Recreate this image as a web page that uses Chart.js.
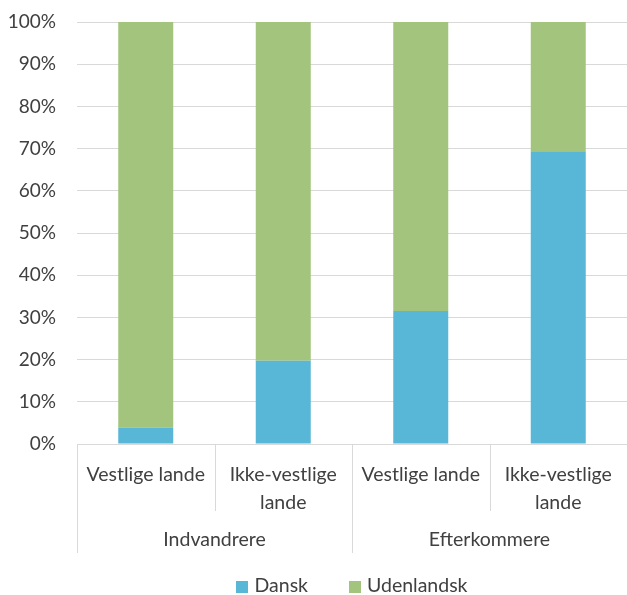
<!DOCTYPE html>
<html>
<head>
<meta charset="utf-8">
<script src="https://cdn.jsdelivr.net/npm/chart.js@4/dist/chart.umd.min.js"></script>
<style>
html,body{margin:0;padding:0;background:#fff;}
#wrap{width:627px;height:595px;}
</style>
</head>
<body>
<div id="wrap"><canvas id="c" width="627" height="595"></canvas></div>
<script>
const subCategories = [["Vestlige lande"], ["Ikke-vestlige", "lande"], ["Vestlige lande"], ["Ikke-vestlige", "lande"]];
const groups = ["Indvandrere", "Efterkommere"];
const groupSizes = [2, 2];
const dansk = [3.9, 19.7, 31.5, 69.4];
const udenlandsk = [96.1, 80.3, 68.5, 30.6];
const seriesNames = ["Dansk", "Udenlandsk"];
const yMin = 0, yMax = 100, yStep = 10;

const TEXT = '#404040';
const LINE = '#d9d9d9';
const FONT = 'Lato';
const FS = 19.5;
const PLOT_BOTTOM = 444;

const groupPlugin = {
  id: 'groupPlugin',
  afterDraw(chart) {
    const ctx = chart.ctx;
    const x = chart.scales.x;
    const area = chart.chartArea;
    const n = x.ticks.length;
    const step = (x.right - x.left) / n;
    const yTop = area.bottom;
    const shortBottom = yTop + 67;
    const longBottom = yTop + 109;
    ctx.save();
    ctx.strokeStyle = LINE;
    ctx.lineWidth = 1;
    let idx = 0;
    const boundaries = new Set([0]);
    groupSizes.forEach(s => { idx += s; boundaries.add(idx); });
    for (let i = 0; i < n; i++) {
      const px = Math.round(x.left + i * step) + 0.5;
      ctx.beginPath();
      ctx.moveTo(px, yTop);
      ctx.lineTo(px, boundaries.has(i) ? longBottom : shortBottom);
      ctx.stroke();
    }
    ctx.fillStyle = TEXT;
    ctx.font = FS + 'px ' + FONT;
    ctx.textAlign = 'center';
    ctx.textBaseline = 'alphabetic';
    let start = 0;
    groups.forEach((g, gi) => {
      const end = start + groupSizes[gi];
      const cx = x.left + (start + end) / 2 * step;
      ctx.fillText(g, cx, yTop + 102);
      start = end;
    });

    // legend, centred on the plot area
    const box = 12, gapBoxText = 6, gapItems = 41;
    const items = chart.data.datasets.map(d => ({ label: d.label, color: d.backgroundColor, w: ctx.measureText(d.label).width }));
    const total = items.reduce((s, it, i) => s + box + gapBoxText + it.w + (i ? gapItems : 0), 0);
    let cx = (area.left + area.right - total) / 2;
    const baseY = 592;
    ctx.textAlign = 'left';
    items.forEach((it, i) => {
      if (i) cx += gapItems;
      ctx.fillStyle = it.color;
      ctx.fillRect(Math.round(cx), 581, box, box);
      cx += box + gapBoxText;
      ctx.fillStyle = TEXT;
      ctx.fillText(it.label, cx, baseY);
      cx += it.w;
    });
    ctx.restore();
  }
};

new Chart(document.getElementById('c'), {
  type: 'bar',
  data: {
    labels: subCategories,
    datasets: [
      { label: seriesNames[0], data: dansk, backgroundColor: '#58B6D6', barPercentage: 0.4, categoryPercentage: 1 },
      { label: seriesNames[1], data: udenlandsk, backgroundColor: '#A2C47D', barPercentage: 0.4, categoryPercentage: 1 }
    ]
  },
  options: {
    responsive: false,
    animation: false,
    layout: { padding: { top: 22, left: 0, right: 0, bottom: 0 } },
    plugins: {
      legend: { display: false },
      tooltip: { enabled: false }
    },
    scales: {
      x: {
        stacked: true,
        grid: { display: false },
        border: { display: true, color: LINE },
        ticks: {
          color: TEXT,
          font: { family: FONT, size: FS, lineHeight: 1.42 },
          padding: 9,
          maxRotation: 0, autoSkip: false
        },
        afterFit(scale) {
          scale.height = scale.chart.height - PLOT_BOTTOM;
        }
      },
      y: {
        stacked: true,
        min: yMin, max: yMax,
        grid: { color: LINE, drawTicks: true, tickLength: 21, tickColor: 'rgba(0,0,0,0)' },
        border: { display: false },
        ticks: {
          stepSize: yStep,
          color: TEXT,
          font: { family: FONT, size: 19 },
          padding: 0,
          callback: v => v + '%'
        },
        afterFit(scale) { scale.width = 77; }
      }
    }
  },
  plugins: [groupPlugin]
});
</script>
</body>
</html>
